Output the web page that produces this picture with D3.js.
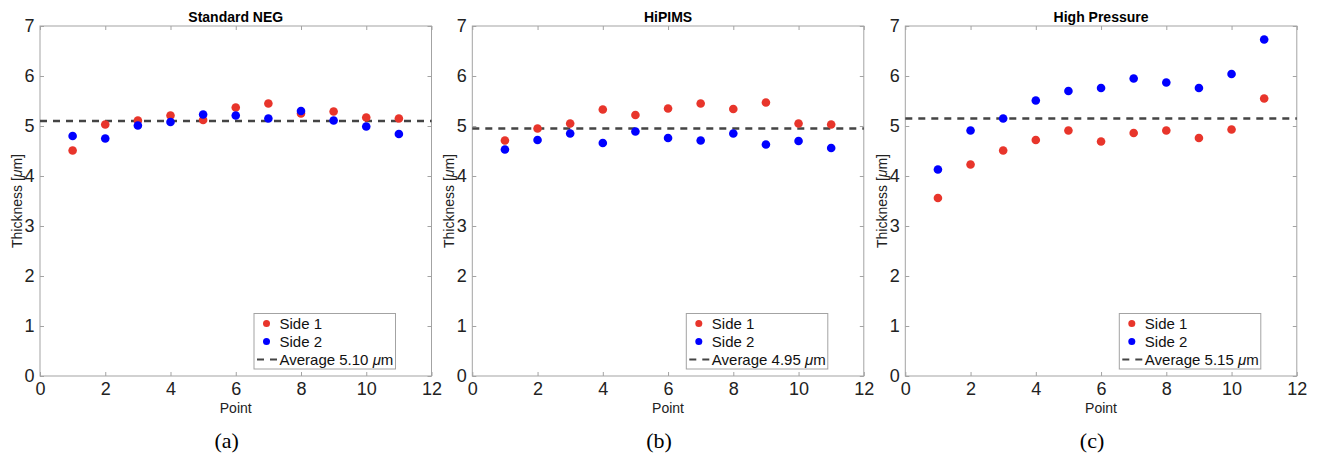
<!DOCTYPE html>
<html>
<head>
<meta charset="utf-8">
<script src="https://cdn.jsdelivr.net/npm/d3@7"></script>
<style>
  body { margin: 0; background: #fff; }
  svg { display: block; font-family: "Liberation Sans", Arial, sans-serif; }
</style>
</head>
<body>
<svg id="chart" width="1317" height="459"></svg>
<script>
// data
const points = [1, 2, 3, 4, 5, 6, 7, 8, 9, 10, 11];
const titles = ['Standard NEG', 'HiPIMS', 'High Pressure'];
const captions = ['(a)', '(b)', '(c)'];
const averages = [5.10, 4.95, 5.15];

const negSide1 = [4.51, 5.03, 5.11, 5.21, 5.12, 5.37, 5.45, 5.25, 5.29, 5.17, 5.15];
const negSide2 = [4.80, 4.75, 5.01, 5.08, 5.23, 5.21, 5.15, 5.30, 5.11, 4.99, 4.84];
const hipSide1 = [4.71, 4.95, 5.05, 5.33, 5.22, 5.35, 5.45, 5.34, 5.47, 5.05, 5.03];
const hipSide2 = [4.53, 4.72, 4.85, 4.66, 4.89, 4.76, 4.71, 4.85, 4.63, 4.70, 4.56];
const hpSide1 = [3.56, 4.23, 4.51, 4.72, 4.91, 4.69, 4.86, 4.91, 4.76, 4.93, 5.55];
const hpSide2 = [4.13, 4.91, 5.15, 5.51, 5.70, 5.76, 5.95, 5.87, 5.76, 6.04, 6.73];

const xTicks = [0, 2, 4, 6, 8, 10, 12];
const yTicks = [0, 1, 2, 3, 4, 5, 6, 7];

const panels = [
  { left: 40, side1: negSide1, side2: negSide2 },
  { left: 472.3, side1: hipSide1, side2: hipSide2 },
  { left: 905.3, side1: hpSide1, side2: hpSide2 }
];

const plotW = 391.5;
const plotTop = 26, plotBottom = 376;
const red = '#e8352b', blue = '#0000ff';
const boxColor = '#a3a3a3';

const svg = d3.select('#chart');

panels.forEach((p, i) => {
  const x = d3.scaleLinear().domain([0, 12]).range([p.left, p.left + plotW]);
  const y = d3.scaleLinear().domain([0, 7]).range([plotBottom, plotTop]);
  const g = svg.append('g');

  // box
  g.append('rect')
    .attr('x', x(0)).attr('y', y(7))
    .attr('width', x(12) - x(0)).attr('height', y(0) - y(7))
    .attr('fill', 'none').attr('stroke', boxColor).attr('stroke-width', 1);

  // axes (ticks inward, mirrored)
  const styleAxis = sel => {
    sel.select('.domain').remove();
    sel.selectAll('line').attr('stroke', boxColor);
    sel.selectAll('text').attr('fill', '#222').style('font-size', '18px');
  };
  g.append('g').attr('transform', `translate(0,${plotBottom})`)
    .call(d3.axisBottom(x).tickValues(xTicks).tickSize(-4).tickPadding(6).tickFormat(d3.format('d')))
    .call(styleAxis);
  g.append('g').attr('transform', `translate(0,${plotTop})`)
    .call(d3.axisTop(x).tickValues(xTicks).tickSize(-4).tickFormat(''))
    .call(styleAxis);
  g.append('g').attr('transform', `translate(${x(0)},0)`)
    .call(d3.axisLeft(y).tickValues(yTicks).tickSize(-4).tickPadding(5.5).tickFormat(d3.format('d')))
    .call(styleAxis);
  g.append('g').attr('transform', `translate(${x(12)},0)`)
    .call(d3.axisRight(y).tickValues(yTicks).tickSize(-4).tickFormat(''))
    .call(styleAxis);

  // average line
  g.append('line')
    .attr('x1', x(0)).attr('x2', x(12))
    .attr('y1', y(averages[i])).attr('y2', y(averages[i]))
    .attr('stroke', '#444').attr('stroke-width', 2.5)
    .attr('stroke-dasharray', '7,6');

  // points
  [[p.side1, red], [p.side2, blue]].forEach(([vals, col]) => {
    g.selectAll(null).data(vals).enter().append('circle')
      .attr('cx', (d, j) => x(points[j]))
      .attr('cy', d => y(d))
      .attr('r', 4.3)
      .attr('fill', col);
  });

  // title
  g.append('text')
    .attr('x', (x(0) + x(12)) / 2).attr('y', 22)
    .attr('text-anchor', 'middle')
    .style('font-size', '14px').style('font-weight', 'bold')
    .attr('fill', '#000')
    .text(titles[i]);

  // axis labels
  g.append('text')
    .attr('x', (x(0) + x(12)) / 2).attr('y', 413)
    .attr('text-anchor', 'middle')
    .style('font-size', '14px').attr('fill', '#222')
    .text('Point');

  const yl = g.append('text')
    .attr('transform', `translate(${x(0) - 18},${(plotTop + plotBottom) / 2}) rotate(-90)`)
    .attr('text-anchor', 'middle')
    .style('font-size', '14px').attr('fill', '#222');
  yl.append('tspan').text('Thickness [');
  yl.append('tspan').style('font-style', 'italic').text('μ');
  yl.append('tspan').text('m]');

  // caption
  g.append('text')
    .attr('x', (x(0) + x(12)) / 2 - 9).attr('y', 448)
    .attr('text-anchor', 'middle')
    .style('font-family', '"Liberation Serif", "Times New Roman", serif')
    .style('font-size', '22px').attr('fill', '#000')
    .text(captions[i]);

  // legend
  const lx = x(12) - 177.5, ly = 313.5;
  const leg = g.append('g').attr('transform', `translate(${lx},${ly})`);
  leg.append('rect')
    .attr('width', 141.5).attr('height', 55.5)
    .attr('fill', '#fff').attr('stroke', boxColor).attr('stroke-width', 1);
  [[red, 'Side 1'], [blue, 'Side 2']].forEach(([col, label], k) => {
    leg.append('circle').attr('cx', 12.5).attr('cy', 10 + k * 18).attr('r', 3.5).attr('fill', col);
    leg.append('text').attr('x', 25.5).attr('y', 15 + k * 18)
      .style('font-size', '15px').attr('fill', '#111').text(label);
  });
  leg.append('line')
    .attr('x1', 3).attr('x2', 24).attr('y1', 46).attr('y2', 46)
    .attr('stroke', '#444').attr('stroke-width', 2)
    .attr('stroke-dasharray', '7,6');
  const at = leg.append('text').attr('x', 25.5).attr('y', 51)
    .style('font-size', '15px').attr('fill', '#111');
  at.append('tspan').text(`Average ${averages[i].toFixed(2)} `);
  at.append('tspan').style('font-style', 'italic').text('μ');
  at.append('tspan').text('m');
});
</script>
</body>
</html>
